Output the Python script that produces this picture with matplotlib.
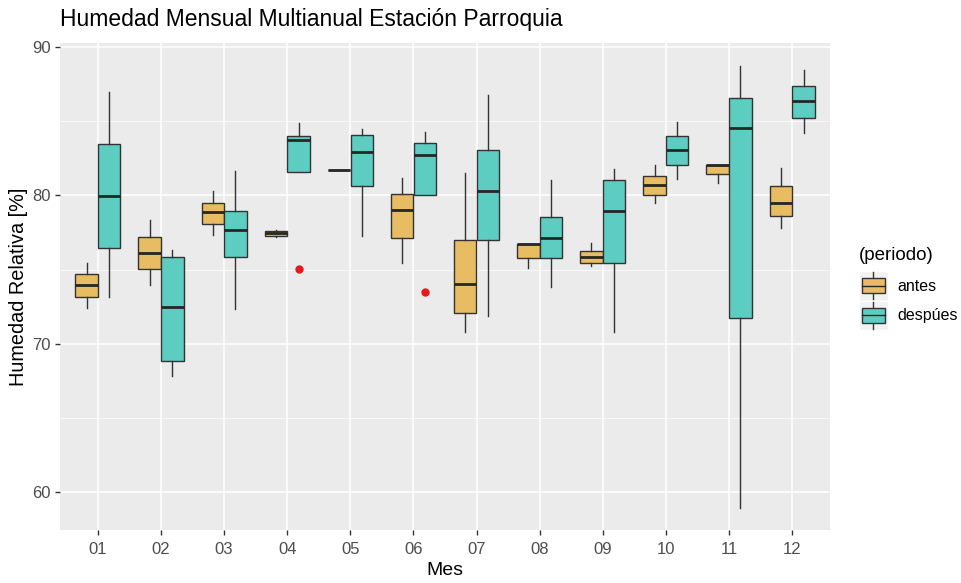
import matplotlib
matplotlib.use("Agg")
import matplotlib.pyplot as plt
from matplotlib.patches import Rectangle
from matplotlib.lines import Line2D
from matplotlib.legend_handler import HandlerBase
import numpy as np

plt.rcParams['font.family'] = ['Liberation Sans', 'DejaVu Sans']

# ---- datos ----
meses = ['01', '02', '03', '04', '05', '06', '07', '08', '09', '10', '11', '12']

# periodo "antes": min bigote, Q1, mediana, Q3, max bigote
antes_lo  = [72.43, 73.95, 77.30, 77.20, 81.70, 75.44, 70.82, 75.11, 75.24, 79.46, 80.80, 77.82]
antes_q1  = [73.12, 75.02, 78.04, 77.28, 81.70, 77.14, 72.09, 75.80, 75.42, 80.00, 81.41, 78.62]
antes_med = [73.95, 76.09, 78.89, 77.48, 81.70, 79.02, 74.01, 76.70, 75.85, 80.70, 82.01, 79.46]
antes_q3  = [74.69, 77.16, 79.49, 77.61, 81.70, 80.09, 77.01, 76.74, 76.25, 81.32, 82.06, 80.63]
antes_hi  = [75.47, 78.35, 80.31, 77.65, 81.70, 81.14, 81.47, 76.74, 76.78, 82.06, 82.06, 81.83]

# periodo "despues"
desp_lo  = [73.16, 67.80, 72.32, 81.57, 77.25, 80.03, 71.89, 73.83, 70.82, 81.10, 58.93, 84.22]
desp_q1  = [76.47, 68.81, 75.87, 81.57, 80.63, 80.03, 77.01, 75.78, 75.44, 82.01, 71.72, 85.19]
desp_med = [79.98, 72.49, 77.65, 83.75, 82.91, 82.73, 80.31, 77.12, 78.95, 83.08, 84.54, 86.35]
desp_q3  = [83.44, 75.87, 78.97, 84.00, 84.07, 83.55, 83.04, 78.55, 81.05, 84.00, 86.57, 87.33]
desp_hi  = [86.97, 76.34, 81.61, 84.89, 84.45, 84.27, 86.75, 81.05, 81.77, 84.96, 88.74, 88.47]

# valores atipicos (mes, periodo, valor)
atipicos = [('04', 'despúes', 75.02), ('06', 'despúes', 73.46)]

periodos = ['antes', 'despúes']
colores = {'antes': '#E8BC62', 'despúes': '#5DCDC1'}


def stats(lo, q1, med, q3, hi, per):
    out = []
    for i, m in enumerate(meses):
        fl = [v for (mm, pp, v) in atipicos if mm == m and pp == per]
        out.append(dict(whislo=lo[i], q1=q1[i], med=med[i], q3=q3[i],
                        whishi=hi[i], fliers=fl))
    return out


datos = {
    'antes': stats(antes_lo, antes_q1, antes_med, antes_q3, antes_hi, 'antes'),
    'despúes': stats(desp_lo, desp_q1, desp_med, desp_q3, desp_hi, 'despúes'),
}

fig = plt.figure(figsize=(9.62, 5.83), dpi=100)
ax = fig.add_axes([0.0624, 0.0909, 0.8004, 0.8351])
ax.set_facecolor('#EBEBEB')

x = np.arange(1, len(meses) + 1)
desplaz = {'antes': -0.18, 'despúes': 0.18}
borde = '#333333'

for p in periodos:
    ax.bxp(datos[p], positions=x + desplaz[p], widths=0.355, patch_artist=True,
           showcaps=False,
           boxprops=dict(facecolor=colores[p], edgecolor=borde, linewidth=1.0),
           medianprops=dict(color='#262626', linewidth=2.0),
           whiskerprops=dict(color=borde, linewidth=1.0),
           flierprops=dict(marker='o', markerfacecolor='#E41A1C', markeredgecolor='#E41A1C',
                           markersize=5),
           zorder=3)

ax.set_xlim(0.4, 12.6)
ax.set_ylim(57.45, 90.25)
ax.set_xticks(x)
ax.set_xticklabels(meses)
ax.set_yticks([60, 70, 80, 90])
ax.set_yticks([65, 75, 85], minor=True)
ax.grid(True, which='major', color='white', linewidth=1.1, zorder=0)
ax.grid(True, which='minor', axis='y', color='white', linewidth=0.5, zorder=0)
ax.set_axisbelow(True)
for s in ax.spines.values():
    s.set_visible(False)
ax.tick_params(axis='both', which='major', colors='#333333', length=3.5, width=1.0,
               labelsize=12, labelcolor='#4D4D4D', pad=3)
ax.tick_params(axis='x', which='major', pad=5)
ax.tick_params(axis='y', which='minor', length=0)

ax.set_xlabel('Mes', fontsize=14, color='black', labelpad=4)
ax.set_ylabel('Humedad Relativa [%]', fontsize=14.3, color='black', labelpad=3)
fig.text(0.0624, 0.966, 'Humedad Mensual Multianual Estación Parroquia',
         fontsize=16.5, color='black', ha='left', va='center')


class CajaHandler(HandlerBase):
    def create_artists(self, legend, orig_handle, xdescent, ydescent, width, height,
                       fontsize, trans):
        x0, y0 = -xdescent, -ydescent
        fondo = Rectangle((x0, y0), width, height, facecolor='#F2F2F2',
                          edgecolor='white', linewidth=1.0, transform=trans)
        cx = x0 + width / 2
        bw = width * 0.83
        bh = height * 0.52
        caja = Rectangle((cx - bw / 2, y0 + (height - bh) / 2), bw, bh,
                         facecolor=orig_handle.get_facecolor(), edgecolor=borde,
                         linewidth=1.0, transform=trans)
        med = Line2D([cx - bw / 2, cx + bw / 2], [y0 + height / 2] * 2,
                     color='#262626', linewidth=1.0, transform=trans)
        b1 = Line2D([cx, cx], [y0 + height * 0.05, y0 + (height - bh) / 2],
                    color=borde, linewidth=1.0, transform=trans)
        b2 = Line2D([cx, cx], [y0 + (height + bh) / 2, y0 + height * 0.95],
                    color=borde, linewidth=1.0, transform=trans)
        return [fondo, b1, b2, caja, med]


manejadores = [Rectangle((0, 0), 1, 1, facecolor=colores[p]) for p in periodos]
leg = fig.legend(manejadores, periodos, handler_map={Rectangle: CajaHandler()},
                 title='(periodo)', loc='center left', bbox_to_anchor=(0.893, 0.505),
                 frameon=False, fontsize=11.5, title_fontsize=13.5,
                 handlelength=1.8, handleheight=2.48, handletextpad=0.6,
                 labelspacing=0.0, borderaxespad=0, borderpad=0)
leg._legend_box.align = 'left'
leg._legend_box.sep = 5  # espacio entre titulo y claves

fig.savefig('out.png', dpi=100)
